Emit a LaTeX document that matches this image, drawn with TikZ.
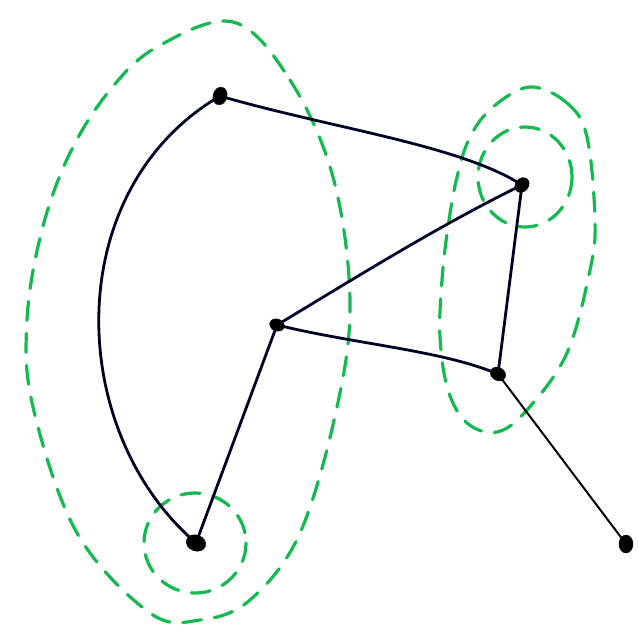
\documentclass[tikz,border=0pt]{standalone}
\usetikzlibrary{shapes.geometric}
\begin{document}
\begin{tikzpicture}[x=1pt,y=-1pt,
  vtx/.style={ellipse,fill=black,draw=black,inner sep=0pt,minimum width=14pt,minimum height=18pt},
  edge/.style={line width=2.8pt,draw=black!85!blue},
  hull/.style={draw=hullgreen,line width=3.2pt,dash pattern=on 19pt off 13pt,line cap=round}]
\definecolor{hullgreen}{RGB}{20,185,80}
\fill[white] (0,0) rectangle (638,632);
\useasboundingbox (0,0) rectangle (638,632);
% green dashed groupings
\draw[hull] plot[smooth cycle,tension=0.6] coordinates {(233,22) (290,80) (333,177) (350,300) (337,407) (300,533) (250,600) (200,620) (150,613) (77,533) (33,407) (27,320) (42,230) (70,153) (110,90) (157,47)};
\draw[hull] (195,543) ellipse (51 and 50);
\draw[hull] (525,177) ellipse (47 and 50);
\draw[hull] plot[smooth cycle,tension=0.6] coordinates {(530,87) (567,103) (587,137) (595,220) (590,270) (567,353) (527,410) (497,432) (467,423) (448,390) (440,337) (442,280) (448,227) (457,177) (470,137) (493,107)};
% vertices
\coordinate (A) at (220,96);
\coordinate (B) at (522,185);
\coordinate (C) at (277,325);
\coordinate (D) at (498,374);
\coordinate (E) at (196,543);
\coordinate (F) at (626,544);
% edges
\draw[edge] (A) .. controls (60,190) and (65,430) .. (E);
\draw[edge] (A) .. controls (330,128) and (460,145) .. (B);
\draw[edge] (C) .. controls (360,275) and (440,225) .. (B);
\draw[edge] (C) .. controls (360,345) and (440,350) .. (D);
\draw[edge] (C) -- (E);
\draw[edge] (B) -- (D);
\draw[line width=2pt,draw=black] (D) -- (F);
% vertex dots
\node[vtx,rotate=-15] (nA) at (A) {};
\node[vtx,rotate=-40,minimum width=13pt,minimum height=16pt] (nB) at (B) {};
\node[vtx,rotate=70,minimum width=12pt,minimum height=15pt] (nC) at (C) {};
\node[vtx,rotate=60,minimum width=13pt,minimum height=16pt] (nD) at (D) {};
\node[vtx,rotate=70,minimum width=16pt,minimum height=20pt] (nE) at (E) {};
\node[vtx] (nF) at (F) {};
\end{tikzpicture}
\end{document}
